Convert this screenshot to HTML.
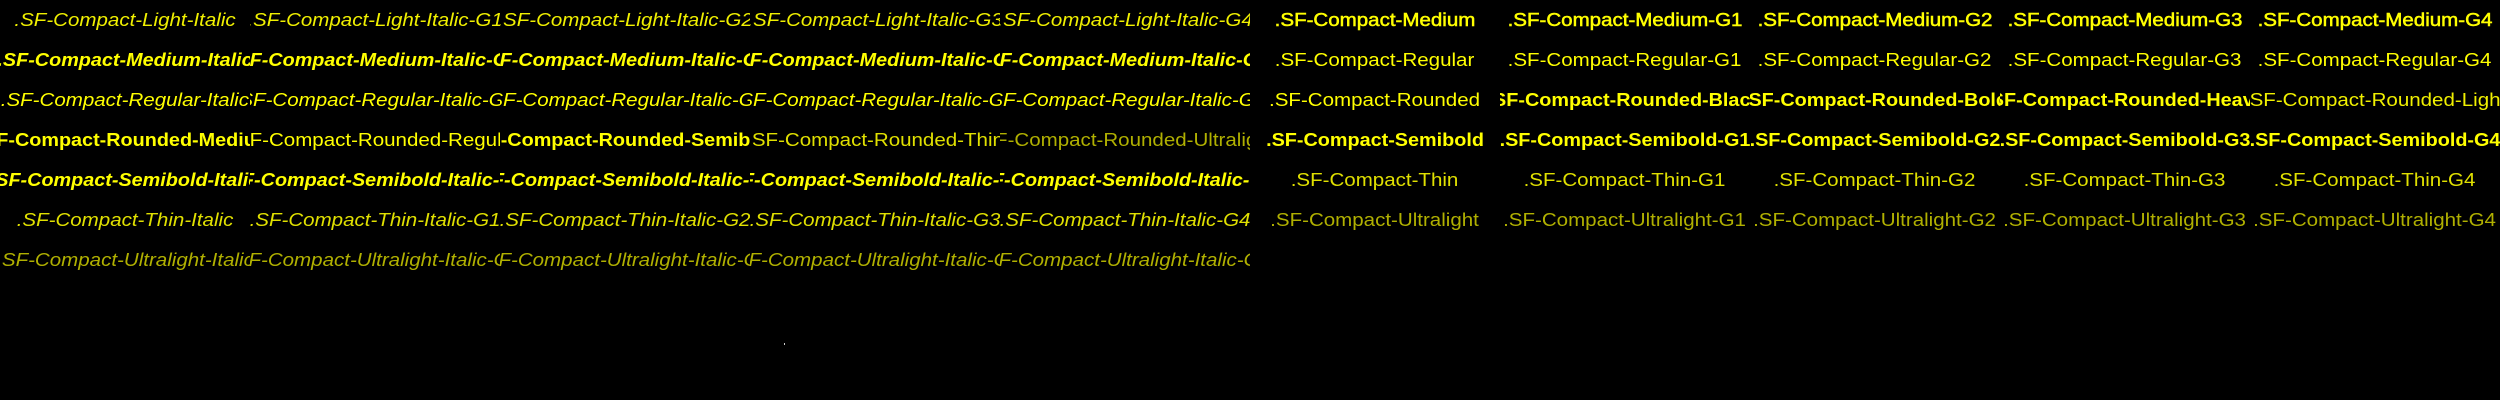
<!DOCTYPE html>
<html><head><meta charset="utf-8"><style>
html,body{margin:0;padding:0;background:#000;}
body{width:2500px;height:400px;position:relative;overflow:hidden;font-family:"Liberation Sans",sans-serif;font-size:18px;color:#ffff00;}
.c{position:absolute;width:250px;height:40px;overflow:hidden;display:flex;justify-content:center;align-items:center;background:#000;white-space:nowrap;}
.c span{flex:none;display:inline-block;transform:scaleX(1.14);}
.c span.b{transform:scaleX(1.1);}
.i{font-style:italic;}
.b{font-weight:bold;}
.m{-webkit-text-stroke:0.5px #ffff00;}
.l{color:#f0f000;}
.t{color:#e0e000;}
.u{color:#b0b000;}
.dot{position:absolute;left:784px;top:343px;width:1px;height:2px;background:#ccc;}
</style></head><body>
<div id="g"></div>
<script>
var rowsL=[
 [["SF-Compact-Light-Italic","i l"]],
 [["SF-Compact-Medium-Italic","i b"]],
 [["SF-Compact-Regular-Italic","i"]],
 null,
 [["SF-Compact-Semibold-Italic","i b"]],
 [["SF-Compact-Thin-Italic","i t"]],
 [["SF-Compact-Ultralight-Italic","i u"]]
];
var rowsR=[
 [["SF-Compact-Medium","m"]],
 [["SF-Compact-Regular",""]],
 null,
 [["SF-Compact-Semibold","b"]],
 [["SF-Compact-Thin","t"]],
 [["SF-Compact-Ultralight","u"]]
];
var h="";
function cell(col,row,txt,cls){
 h+='<div class="c" style="left:'+(col*250)+'px;top:'+(row*40)+'px"><span class="'+cls+'">.'+txt+'</span></div>';
}
function fill(rows,off){
 rows.forEach(function(r,ri){
  if(!r)return;
  var n=r[0][0],c=r[0][1];
  cell(off,ri,n,c);
  for(var k=1;k<5;k++)cell(off+k,ri,n+"-G"+k,c);
 });
}
fill(rowsL,0);fill(rowsR,5);
var rl=[["SF-Compact-Rounded-Medium","b"],["SF-Compact-Rounded-Regular",""],["SF-Compact-Rounded-Semibold","b"],["SF-Compact-Rounded-Thin","t"],["SF-Compact-Rounded-Ultralight","u"]];
rl.forEach(function(x,k){cell(k,3,x[0],x[1]);});
var rr=[["SF-Compact-Rounded",""],["SF-Compact-Rounded-Black","b"],["SF-Compact-Rounded-Bold","b"],["SF-Compact-Rounded-Heavy","b"],["SF-Compact-Rounded-Light","l"]];
rr.forEach(function(x,k){cell(5+k,2,x[0],x[1]);});
document.getElementById("g").innerHTML=h;
</script>
<div class="dot"></div>
</body></html>
